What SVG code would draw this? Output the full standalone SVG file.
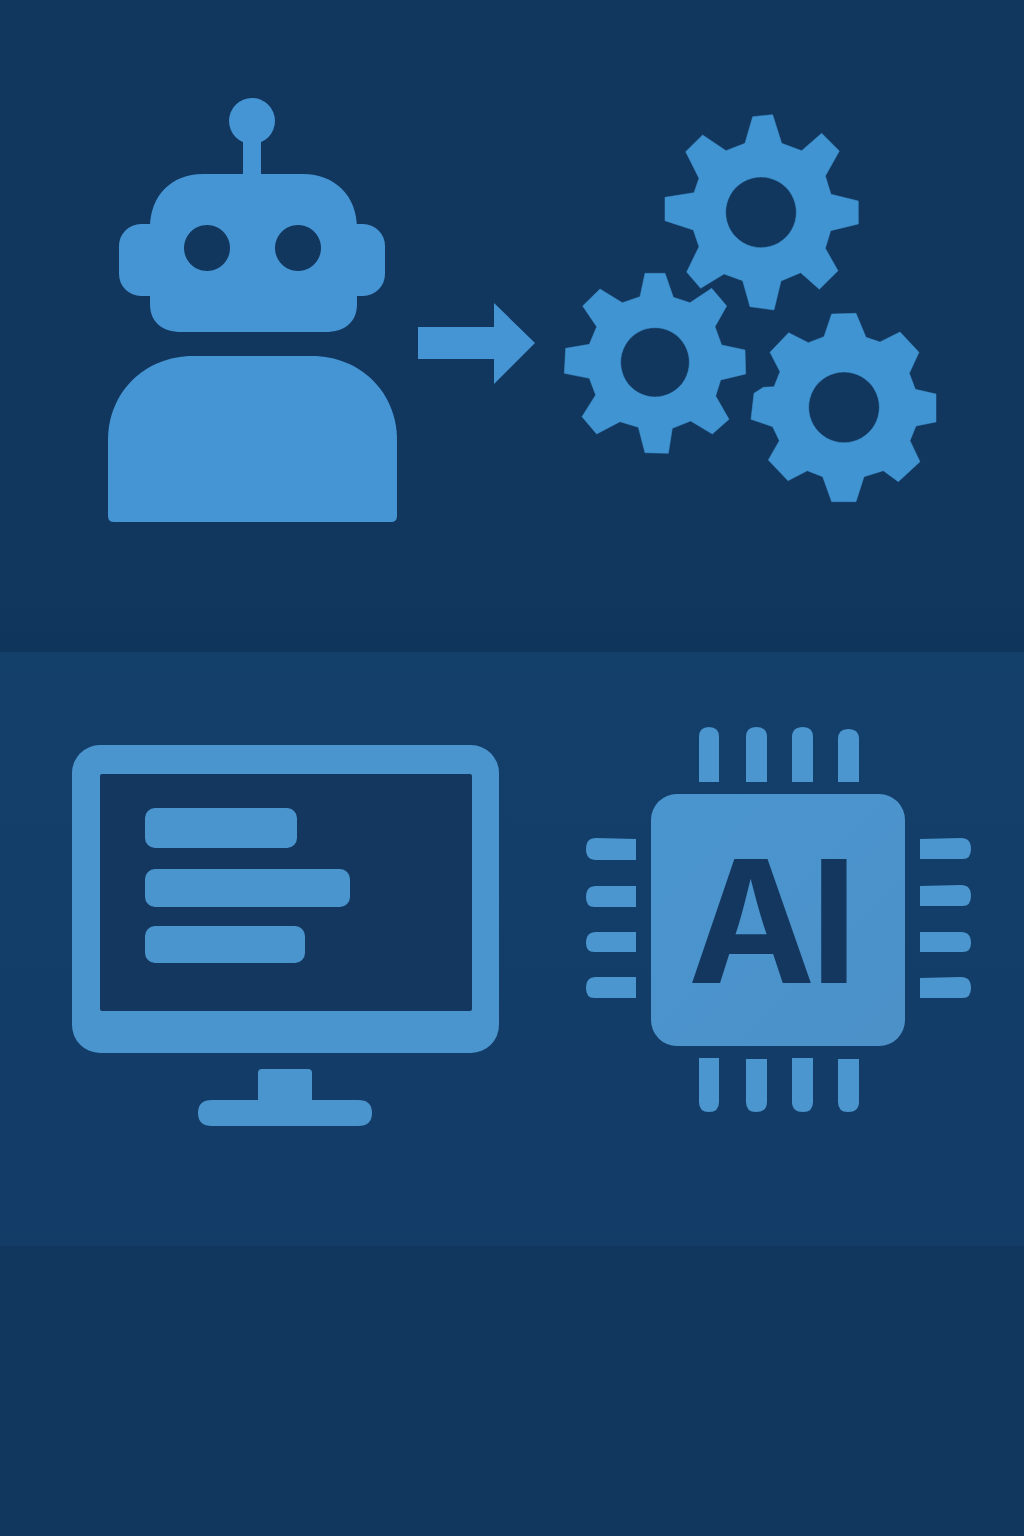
<svg xmlns="http://www.w3.org/2000/svg" width="1024" height="1536" viewBox="0 0 1024 1536">
<defs>
<linearGradient id="topBg" x1="0" y1="0" x2="0" y2="1"><stop offset="0" stop-color="#12375f"/><stop offset="0.9" stop-color="#12375f"/><stop offset="1" stop-color="#10355b"/></linearGradient>
<linearGradient id="midBg" x1="0" y1="0" x2="0" y2="1"><stop offset="0" stop-color="#133f6b"/><stop offset="1" stop-color="#133c67"/></linearGradient>
<linearGradient id="chipFill" x1="0" y1="0" x2="1" y2="1"><stop offset="0" stop-color="#4a95cf"/><stop offset="1" stop-color="#4c91c8"/></linearGradient>
<style>
.robot{fill:#4595d5}
.gear{fill:#3f94d1;fill-rule:evenodd;stroke:#3f94d1;stroke-width:1.5;stroke-linejoin:round}
.mon{fill:#4b95cf}
.pin{fill:#4c96cf}
.hole{fill:#13375f}
.ai{font-family:"Inter","Liberation Sans",Arial,sans-serif;font-weight:700;font-size:170px;fill:#13375f}
</style>
</defs>
<g id="background">
<rect x="0" y="0" width="1024" height="652" fill="url(#topBg)"/>
<rect x="0" y="652" width="1024" height="594" fill="url(#midBg)"/>
<rect x="0" y="1246" width="1024" height="290" fill="#12375f"/>
</g>
<g id="robot">
<circle class="robot" cx="252" cy="121" r="23"/>
<rect class="robot" x="243" y="135" width="18" height="45"/>
<rect class="robot" x="119" y="224" width="60" height="72" rx="22"/>
<rect class="robot" x="325" y="224" width="60" height="72" rx="22"/>
<path class="robot" fill-rule="evenodd" d="M203 174H303C335 174 357 196 357 228V304C357 322 345 332 325 332H182C162 332 150 322 150 304V228C150 196 171 174 203 174ZM207 225a23 23 0 1 0 0.01 0ZM298 225a23 23 0 1 0 0.01 0Z"/>
<path class="robot" d="M193 356H312C360 356 397 392 397 440V516Q397 522 391 522H114Q108 522 108 516V440C108 392 145 356 193 356Z"/>
</g>
<g id="connectors">
<path id="arrow" class="robot" d="M418 327H494V303L535 343L494 384V359H418Z"/>
</g>
<g id="gears" transform="translate(550 100) scale(0.33333)">
<path id="gear-top" class="gear" d="M608 50L668 44L695 130L755 152L815 100L868 153L826 228L843 283L925 303L925 372L842 392L826 445L864 512L808 568L752 518L693 543L672 630L600 620L578 542L522 522L452 565L410 516L447 440L430 390L345 362L345 292L432 278L447 235L407 155L458 105L528 152L585 130ZM633 231a106 106 0 1 0 .01 0Z"/>
<path id="gear-left" class="gear" d="M285 520L345 520L370 592L420 608L485 565L530 618L495 680L515 735L585 750L587 822L512 840L497 888L537 958L487 1002L422 963L367 985L355 1060L285 1058L265 982L210 965L140 1002L96 950L137 885L118 835L43 820L47 745L118 733L140 680L98 618L150 567L217 608L270 590ZM315 683a103 104 0 1 0 .01 0Z"/>
<path id="gear-right" class="gear" d="M845 642L918 640L948 712L990 726L1050 696L1107 757L1078 820L1096 868L1158 882L1158 966L1098 978L1080 1022L1110 1085L1045 1145L1000 1112L942 1130L918 1205L845 1205L818 1130L772 1112L714 1142L655 1080L688 1022L668 980L603 958L612 880L640 862L672 860L690 815L660 757L716 698L775 728L822 710ZM882 816a106 106 0 1 0 .01 0Z"/>
</g>
<g id="monitor">
<rect class="mon" x="72" y="745" width="427" height="308" rx="28"/>
<rect class="hole" x="100" y="774" width="372" height="237" rx="2"/>
<rect class="mon" x="145" y="808" width="152" height="40" rx="10"/>
<rect class="mon" x="145" y="869" width="205" height="38" rx="10"/>
<rect class="mon" x="145" y="926" width="160" height="37" rx="10"/>
<path class="mon" d="M262 1069H308Q312 1069 312 1073V1100H358Q372 1100 372 1113T358 1126H212Q198 1126 198 1113T212 1100H258V1073Q258 1069 262 1069Z"/>
</g>
<g id="chip">
<rect x="651" y="794" width="254" height="252" rx="26" fill="url(#chipFill)"/>
<text class="ai" x="688 810" y="983">AI</text>
<path class="pin" d="M699 782V737Q699 727 709 727Q719 727 719 737V782Z"/>
<path class="pin" d="M746 782V737Q746 727 756 727Q767 727 767 737V782Z"/>
<path class="pin" d="M792 782V737Q792 727 803 727Q813 727 813 737V782Z"/>
<path class="pin" d="M838 782V739Q838 729 848 729Q859 729 859 739V782Z"/>
<path class="pin" d="M699 1058H719V1102Q719 1112 709 1112Q699 1112 699 1102Z"/>
<path class="pin" d="M746 1059H767V1102Q767 1112 756 1112Q746 1112 746 1102Z"/>
<path class="pin" d="M792 1058H813V1102Q813 1112 803 1112Q792 1112 792 1102Z"/>
<path class="pin" d="M838 1059H859V1102Q859 1112 848 1112Q838 1112 838 1102Z"/>
<path class="pin" d="M636 839V860H596Q586 860 586 849Q586 838 596 838Z"/>
<path class="pin" d="M636 886V907H596Q586 908 586 897Q586 886 596 886Z"/>
<path class="pin" d="M636 932V952H596Q586 953 586 943Q586 932 596 932Z"/>
<path class="pin" d="M636 977V998H596Q586 999 586 988Q586 977 596 977Z"/>
<path class="pin" d="M920 839V859H961Q971 860 971 849Q971 838 961 838Z"/>
<path class="pin" d="M920 886V906H961Q971 907 971 896Q971 885 961 885Z"/>
<path class="pin" d="M920 932V952H961Q971 953 971 943Q971 932 961 932Z"/>
<path class="pin" d="M920 978V998H961Q971 999 971 988Q971 977 961 977Z"/>
</g>
</svg>
